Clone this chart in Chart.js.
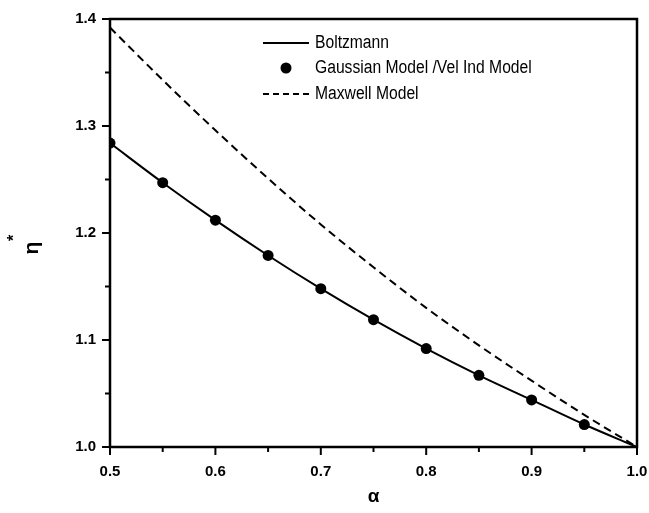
<!DOCTYPE html>
<html>
<head>
<meta charset="utf-8">
<script src="https://cdn.jsdelivr.net/npm/chart.js@4.4.1/dist/chart.umd.min.js"></script>
<style>
html,body{margin:0;padding:0;background:#fff;}
#wrap{width:649px;height:513px;}
</style>
</head>
<body>
<div id="wrap"><canvas id="c" width="649" height="513"></canvas></div>
<script>
// ---- data ----
const alpha = [0.5, 0.55, 0.6, 0.65, 0.7, 0.75, 0.8, 0.85, 0.9, 0.95, 1.0];
const boltzmann = [1.284, 1.247, 1.212, 1.179, 1.148, 1.119, 1.092, 1.067, 1.044, 1.021, 1.0];
const gaussianAlpha = [0.5, 0.55, 0.6, 0.65, 0.7, 0.75, 0.8, 0.85, 0.9, 0.95];
const gaussian = [1.284, 1.247, 1.212, 1.179, 1.148, 1.119, 1.092, 1.067, 1.044, 1.021];
const maxwell = [1.392, 1.343, 1.296, 1.251, 1.208, 1.168, 1.130, 1.095, 1.062, 1.030, 1.0];
const xTicks = [0.5, 0.6, 0.7, 0.8, 0.9, 1.0];
const yTicks = [1.0, 1.1, 1.2, 1.3, 1.4];
const seriesNames = ["Boltzmann", "Gaussian Model /Vel Ind Model", "Maxwell Model"];
const xTitle = "α";
const yTitleMain = "η";
const yTitleSup = "*";

const FONT = "'Liberation Sans', Arial, sans-serif";

function pts(xs, ys){ return xs.map((x,i)=>({x:x, y:ys[i]})); }

const framePlugin = {
  id: 'frame',
  afterDraw(chart){
    const {ctx, chartArea:a, scales} = chart;
    const xs = scales.x, ys = scales.y;
    ctx.save();
    ctx.strokeStyle = '#000';
    ctx.lineWidth = 2.5;
    ctx.strokeRect(a.left, a.top, a.right - a.left, a.bottom - a.top);
    ctx.lineWidth = 2;
    // x ticks (major + minor)
    for (let i = 0; i < xTicks.length; i++) {
      const v = xTicks[i];
      const px = xs.getPixelForValue(v);
      ctx.beginPath(); ctx.moveTo(px, a.bottom); ctx.lineTo(px, a.bottom + 8); ctx.stroke();
      if (i < xTicks.length - 1) {
        const m = xs.getPixelForValue((v + xTicks[i+1]) / 2);
        ctx.beginPath(); ctx.moveTo(m, a.bottom); ctx.lineTo(m, a.bottom + 5); ctx.stroke();
      }
    }
    for (let i = 0; i < yTicks.length; i++) {
      const v = yTicks[i];
      const py = ys.getPixelForValue(v);
      ctx.beginPath(); ctx.moveTo(a.left, py); ctx.lineTo(a.left - 8, py); ctx.stroke();
      if (i < yTicks.length - 1) {
        const m = ys.getPixelForValue((v + yTicks[i+1]) / 2);
        ctx.beginPath(); ctx.moveTo(a.left, m); ctx.lineTo(a.left - 5, m); ctx.stroke();
      }
    }
    // axis titles
    ctx.fillStyle = '#000';
    ctx.font = 'bold 19px ' + FONT;
    ctx.textAlign = 'center';
    ctx.textBaseline = 'middle';
    ctx.fillText(xTitle, (a.left + a.right) / 2, 497);
    ctx.save();
    ctx.translate(32, 248);
    ctx.rotate(-Math.PI / 2);
    ctx.font = 'bold 21px ' + FONT;
    ctx.fillText(yTitleMain, 0, 0);
    ctx.font = 'bold 16px ' + FONT;
    ctx.fillText(yTitleSup, 10, -17);
    ctx.restore();
    // legend
    ctx.font = '18px ' + FONT;
    ctx.textAlign = 'left';
    ctx.textBaseline = 'middle';
    const lx0 = 263, lx1 = 309, tx = 315;
    const rows = [43, 68, 94];
    ctx.lineWidth = 2;
    ctx.setLineDash([]);
    ctx.beginPath(); ctx.moveTo(lx0, rows[0]); ctx.lineTo(lx1, rows[0]); ctx.stroke();
    ctx.beginPath(); ctx.arc((lx0 + lx1) / 2, rows[1], 5.5, 0, Math.PI * 2); ctx.fill();
    ctx.setLineDash([6, 4]);
    ctx.beginPath(); ctx.moveTo(lx0, rows[2]); ctx.lineTo(lx1, rows[2]); ctx.stroke();
    ctx.setLineDash([]);
    for (let i = 0; i < 3; i++) {
      ctx.save();
      ctx.translate(tx, rows[i]);
      ctx.scale(0.87, 1);
      ctx.fillText(seriesNames[i], 0, 0);
      ctx.restore();
    }
    ctx.restore();
  }
};

new Chart(document.getElementById('c'), {
  type: 'line',
  data: {
    datasets: [
      {
        label: seriesNames[0],
        data: pts(alpha, boltzmann),
        borderColor: '#000',
        borderWidth: 2,
        pointRadius: 0,
        cubicInterpolationMode: 'monotone',
        fill: false
      },
      {
        label: seriesNames[1],
        data: pts(gaussianAlpha, gaussian),
        showLine: false,
        pointRadius: 5.5,
        pointBackgroundColor: '#000',
        pointBorderColor: '#000',
        pointBorderWidth: 0
      },
      {
        label: seriesNames[2],
        data: pts(alpha, maxwell),
        borderColor: '#000',
        borderWidth: 2,
        borderDash: [8, 5],
        pointRadius: 0,
        cubicInterpolationMode: 'monotone',
        fill: false
      }
    ]
  },
  options: {
    responsive: false,
    animation: false,
    devicePixelRatio: 1,
    layout: { padding: { left: 0, right: 12, top: 19, bottom: 0 } },
    plugins: { legend: { display: false }, tooltip: { enabled: false } },
    scales: {
      x: {
        type: 'linear',
        min: 0.5, max: 1.0,
        grid: { display: false, drawTicks: false },
        border: { display: false },
        afterBuildTicks(s){ s.ticks = xTicks.map(v => ({value: v})); },
        afterFit(s){ s.height = 66; s.paddingLeft = 0; s.paddingRight = 0; s.paddingTop = 0; s.paddingBottom = 0; },
        ticks: {
          color: '#000',
          padding: 16,
          font: { family: FONT, size: 15, weight: 'bold' },
          callback: v => Number(v).toFixed(1),
          maxRotation: 0
        }
      },
      y: {
        type: 'linear',
        min: 1.0, max: 1.4,
        grid: { display: false, drawTicks: false },
        border: { display: false },
        afterBuildTicks(s){ s.ticks = yTicks.map(v => ({value: v})); },
        afterFit(s){ s.width = 110; s.paddingLeft = 0; s.paddingRight = 0; s.paddingTop = 0; s.paddingBottom = 0; },
        ticks: {
          color: '#000',
          padding: 14,
          font: { family: FONT, size: 15, weight: 'bold' },
          callback: v => Number(v).toFixed(1)
        }
      }
    }
  },
  plugins: [framePlugin]
});
</script>
</body>
</html>
